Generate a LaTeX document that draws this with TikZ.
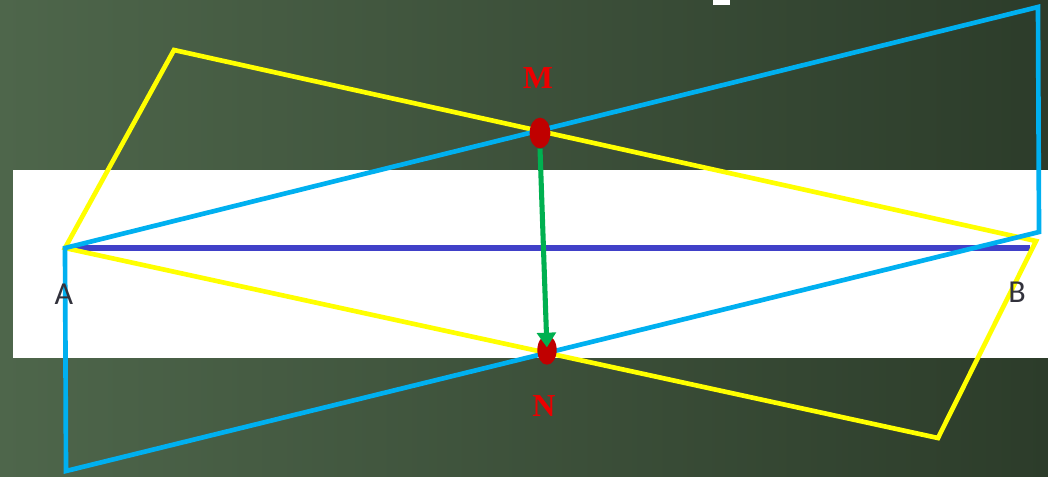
\documentclass[tikz,border=0pt]{standalone}
\usepackage{fontspec}
\setmainfont{Liberation Serif}
\newfontfamily\labelfont{Carlito}
\usepackage{xcolor}
\usepackage{tikz}
\usetikzlibrary{arrows.meta,shapes.geometric}
\definecolor{BoardLight}{RGB}{78,102,75}
\definecolor{BoardDark}{RGB}{44,60,42}
\definecolor{PlaneYellow}{RGB}{255,255,0}
\definecolor{PlaneBlue}{RGB}{0,176,240}
\definecolor{LineIndigo}{RGB}{64,64,200}
\definecolor{PointRed}{RGB}{192,0,0}
\definecolor{LabelRed}{RGB}{235,0,0}
\definecolor{ArrowGreen}{RGB}{0,176,80}
\definecolor{LetterGray}{RGB}{50,50,60}

\begin{document}
\begin{tikzpicture}[x=0.75pt,y=-0.75pt,line join=miter]
  % board and white strip
  \shade[left color=BoardLight,right color=BoardDark] (0,0) rectangle (1048,476);
  \useasboundingbox (0,0) rectangle (1048,476);
  \fill[white] (13,170) rectangle (1048,358);
  \fill[white] (713,0) rectangle (730,5);

  % corners of the two planes
  \coordinate (pA) at (65,248);
  \coordinate (pB) at (1030,248);
  \coordinate (y1) at (174,50);
  \coordinate (y2) at (1036,241);
  \coordinate (y3) at (938,438);
  \coordinate (c1) at (1038,7);
  \coordinate (c2) at (1039,232);
  \coordinate (c3) at (66,471);

  % line AB
  \draw[LineIndigo,line width=5pt] (pA) -- (pB);

  % planes
  \draw[PlaneYellow,line width=3.5pt] (pA) -- (y1) -- (y2) -- (y3) -- cycle;
  \draw[PlaneBlue,line width=3.5pt] (pA) -- (c1) -- (c2) -- (c3) -- cycle;

  % points and labels
  \node[ellipse,fill=PointRed,minimum width=15.5pt,minimum height=23pt,inner sep=0pt] (dotM) at (540,133) {};
  \node[ellipse,fill=PointRed,minimum width=14.5pt,minimum height=22pt,inner sep=0pt] (dotN) at (547,350) {};
  \draw[ArrowGreen,line width=3.8pt,shorten >=2pt,-{Triangle[width=14pt,length=11pt]}] (dotM.south) -- (dotN.center);

  \node[text=LabelRed,font=\bfseries\fontsize{24}{26}\selectfont] (M) at (538,78) {M};
  \node[text=LabelRed,font=\bfseries\fontsize{24}{26}\selectfont] (N) at (544,406) {N};
  \node[text=LetterGray,font=\labelfont\fontsize{24}{26}\selectfont] (A) at (64,294) {A};
  \node[text=LetterGray,font=\labelfont\fontsize{24}{26}\selectfont] (B) at (1017,292) {B};
\end{tikzpicture}
\end{document}
